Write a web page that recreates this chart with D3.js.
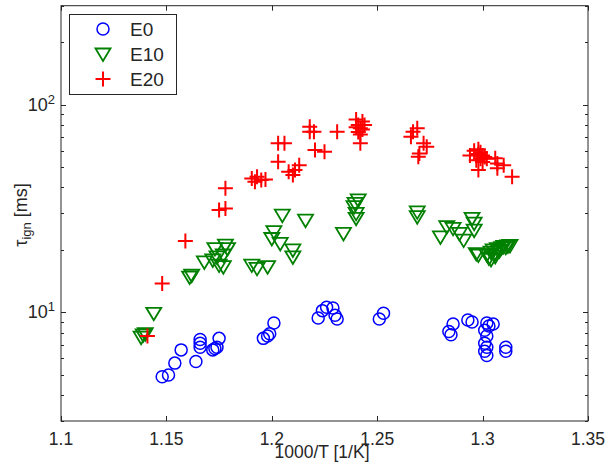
<!DOCTYPE html>
<html>
<head>
<meta charset="utf-8">
<script src="https://cdn.jsdelivr.net/npm/d3@7"></script>
<style>
  body { margin: 0; background: #fff; }
  svg { display: block; }
  text { font-family: "Liberation Sans", Arial, sans-serif; fill: #262626; }
</style>
</head>
<body>
<svg id="chart" width="607" height="463"></svg>
<script>
// ---- data: ignition delay vs inverse temperature ----
const xTicks = [1.1, 1.15, 1.2, 1.25, 1.3, 1.35];
const yDecades = [1, 2];            // labelled as 10^1, 10^2
const yDomain = [3, 300];
const xDomain = [1.1, 1.35];

const e0X = [1.148, 1.151, 1.154, 1.157, 1.164, 1.166, 1.166, 1.166, 1.173, 1.175, 1.174, 1.172,
             1.196, 1.198, 1.199, 1.201, 1.222, 1.224, 1.226, 1.229, 1.230, 1.231, 1.251, 1.253,
             1.284, 1.286, 1.285, 1.293, 1.295, 1.302, 1.303, 1.301, 1.302, 1.301, 1.302, 1.301,
             1.302, 1.305, 1.311, 1.311];
const e0Y = [4.9, 5.0, 5.7, 6.6, 5.8, 7.4, 7.1, 6.8, 6.7, 7.5, 6.8, 6.6,
             7.5, 7.7, 7.9, 8.9, 9.4, 10.2, 10.6, 10.5, 9.7, 9.3, 9.3, 9.9,
             8.1, 8.8, 7.8, 9.2, 9.0, 8.9, 8.6, 8.2, 7.7, 7.1, 6.8, 6.5,
             6.2, 8.8, 6.8, 6.5];

const e10X = [1.139, 1.138, 1.140, 1.144, 1.162, 1.161, 1.168, 1.173, 1.174, 1.172, 1.177, 1.178,
              1.179, 1.177, 1.175, 1.1905, 1.193, 1.198, 1.201, 1.200, 1.204, 1.205, 1.210, 1.210,
              1.216, 1.241, 1.2395, 1.239, 1.240, 1.240, 1.234, 1.269, 1.269, 1.280, 1.283, 1.286,
              1.289, 1.291, 1.295, 1.296, 1.296, 1.297, 1.298,
              1.302, 1.303, 1.304, 1.305, 1.306, 1.307, 1.308, 1.309, 1.310, 1.311, 1.312, 1.313,
              1.306, 1.304, 1.308];
const e10Y = [7.8, 7.6, 7.9, 9.9, 15.1, 14.8, 17.5, 20.3, 18.5, 17.9, 18.9, 21.1,
              20.3, 16.6, 16.9, 16.9, 16.3, 16.6, 24.5, 22.7, 21.5, 29.4, 20.0, 18.5,
              27.8, 34.8, 33.5, 32.3, 30.0, 28.4, 24.0, 30.5, 28.9, 23.1, 25.9, 25.4,
              24.0, 22.3, 28.4, 26.9, 24.9, 19.2, 18.9,
              19.0, 18.3, 19.5, 20.0, 18.6, 20.3, 19.8, 20.5, 20.8, 20.6, 20.9, 21.0,
              19.2, 18.0, 20.0];

const e20X = [1.141, 1.148, 1.159, 1.175, 1.178, 1.178, 1.1905, 1.192, 1.195, 1.193, 1.197,
              1.203, 1.206, 1.203, 1.208, 1.213, 1.211, 1.210, 1.218, 1.218, 1.220, 1.2205, 1.225, 1.231,
              1.240, 1.241, 1.242, 1.243, 1.241, 1.242, 1.244, 1.240, 1.243, 1.242,
              1.269, 1.267, 1.266, 1.272, 1.2735, 1.270, 1.2695,
              1.294, 1.296, 1.298, 1.299, 1.300, 1.297, 1.301, 1.298, 1.300, 1.302, 1.299, 1.298,
              1.306, 1.307, 1.307, 1.310, 1.314];
const e20Y = [7.7, 13.8, 22.1, 31.1, 31.7, 39.6, 44.2, 42.6, 43.4, 45.0, 43.7,
              65.2, 65.2, 53.2, 47.6, 51.2, 48.5, 45.9, 78.4, 74.1, 74.1, 60.5, 59.4, 74.1,
              85, 80, 77, 83, 74, 72, 80, 78, 76, 65.2,
              77.0, 74.1, 70.2, 65.2, 62.8, 58.3, 56.2,
              57, 60, 58, 55, 57, 54, 56, 61, 53, 55, 59, 48.5,
              55.2, 52.2, 49.4, 51.2, 45.0];

const seriesNames = ["E0", "E10", "E20"];
const seriesColors = ["#0000ff", "#008000", "#ff0000"];

// ---- layout ----
const svg = d3.select("#chart");
const plot = { left: 61, right: 588, top: 5.7, bottom: 421 };

const x = d3.scaleLinear().domain(xDomain).range([plot.left, plot.right]);
const y = d3.scaleLog().domain(yDomain).range([plot.bottom, plot.top]);

const axisColor = "#262626";

// ---- marker shapes ----
function drawMarker(g, kind, color, px, py) {
  if (kind === 0) {
    g.append("circle").attr("cx", px).attr("cy", py).attr("r", 6)
      .attr("fill", "none").attr("stroke", color).attr("stroke-width", 1.5);
  } else if (kind === 1) {
    g.append("path")
      .attr("d", `M${px - 7.5},${py - 5.5}L${px + 7.5},${py - 5.5}L${px},${py + 7}Z`)
      .attr("fill", "none").attr("stroke", color).attr("stroke-width", 1.8)
      .attr("stroke-linejoin", "miter");
  } else {
    g.append("path")
      .attr("d", `M${px - 7.5},${py}H${px + 7.5}M${px},${py - 7.5}V${py + 7.5}`)
      .attr("fill", "none").attr("stroke", color).attr("stroke-width", 2);
  }
}

// ---- data marks ----
const marks = svg.append("g");
const allX = [e0X, e10X, e20X];
const allY = [e0Y, e10Y, e20Y];
allX.forEach((xs, s) => {
  const g = marks.append("g").attr("class", "series-" + seriesNames[s]);
  xs.forEach((xv, i) => drawMarker(g, s, seriesColors[s], x(xv), y(allY[s][i])));
});

// ---- axes box and ticks (ticks point inward) ----
const ax = svg.append("g");
ax.append("rect")
  .attr("x", plot.left).attr("y", plot.top)
  .attr("width", plot.right - plot.left).attr("height", plot.bottom - plot.top)
  .attr("fill", "none").attr("stroke", axisColor).attr("stroke-width", 1);

xTicks.forEach(t => {
  const px = Math.round(x(t)) + 0.5;
  ax.append("line").attr("x1", px).attr("x2", px).attr("y1", plot.bottom).attr("y2", plot.bottom - 5)
    .attr("stroke", axisColor);
  ax.append("line").attr("x1", px).attr("x2", px).attr("y1", plot.top).attr("y2", plot.top + 5)
    .attr("stroke", axisColor);
  ax.append("text").attr("x", x(t)).attr("y", plot.bottom + 24)
    .attr("text-anchor", "middle").attr("font-size", 17.5).text(String(t));
});

// major and minor log ticks
const yTickVals = [];
for (let d = 0; d <= 2; d++) {
  for (let m = 1; m <= 9; m++) {
    const v = m * Math.pow(10, d);
    if (v >= yDomain[0] && v <= yDomain[1]) yTickVals.push({ v, major: m === 1 });
  }
}
yTickVals.forEach(({ v, major }) => {
  const py = Math.round(y(v)) + 0.5;
  const len = major ? 5 : 3;
  ax.append("line").attr("x1", plot.left).attr("x2", plot.left + len).attr("y1", py).attr("y2", py)
    .attr("stroke", axisColor);
  ax.append("line").attr("x1", plot.right).attr("x2", plot.right - len).attr("y1", py).attr("y2", py)
    .attr("stroke", axisColor);
});

yDecades.forEach(e => {
  const t = ax.append("text").attr("x", plot.left - 6).attr("y", y(Math.pow(10, e)) + 6)
    .attr("text-anchor", "end").attr("font-size", 18);
  t.append("tspan").text("10");
  t.append("tspan").attr("font-size", 13).attr("dy", -7).text(String(e));
});

// ---- axis labels ----
svg.append("text").attr("x", 322).attr("y", 458).attr("text-anchor", "middle")
  .attr("font-size", 17.5).text("1000/T [1/K]");

const yl = svg.append("text").attr("transform", "translate(27,215) rotate(-90)")
  .attr("text-anchor", "middle").attr("font-size", 18);
yl.append("tspan").text("τ");
yl.append("tspan").attr("font-size", 13).attr("dy", 4).text("ign");
yl.append("tspan").attr("dy", -4).text(" [ms]");

// ---- legend ----
const lg = svg.append("g");
lg.append("rect").attr("x", 69.5).attr("y", 14.5).attr("width", 107).attr("height", 80)
  .attr("fill", "#fff").attr("stroke", axisColor).attr("stroke-width", 1);
seriesNames.forEach((name, s) => {
  const cy = 29 + s * 25;
  drawMarker(lg, s, seriesColors[s], 103, cy);
  lg.append("text").attr("x", 130).attr("y", cy + 7).attr("font-size", 19).text(name);
});
</script>
</body>
</html>
